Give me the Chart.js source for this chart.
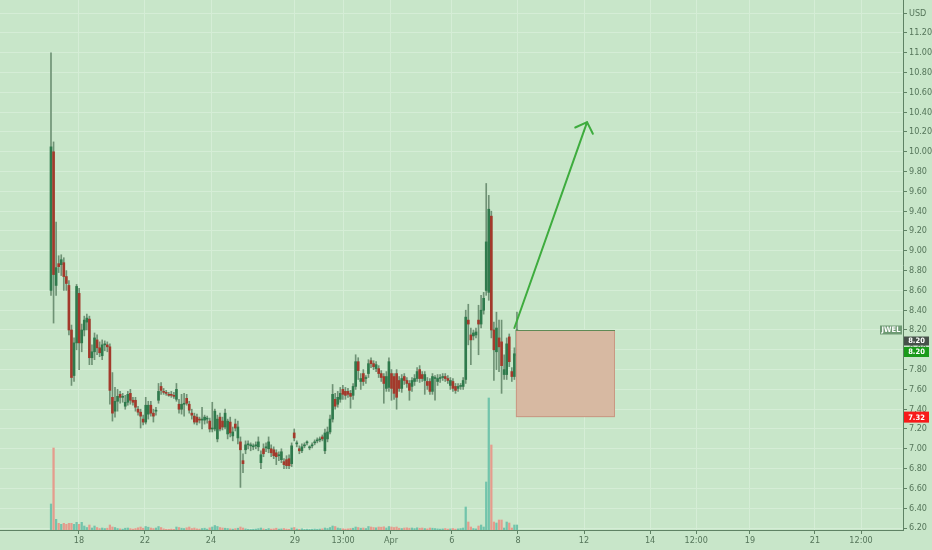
<!DOCTYPE html>
<html>
<head>
<meta charset="utf-8">
<script src="https://cdn.jsdelivr.net/npm/chart.js@4.4.0/dist/chart.umd.min.js"></script>
<style>
  html, body { margin: 0; padding: 0; background: #c8e6c9; }
  #wrap { width: 932px; height: 550px; }
</style>
</head>
<body>
<div id="wrap"><canvas id="chart" width="932" height="550"></canvas></div>
<script>
// 30 minute candles, JWEL, 17 Mar -> 8 Apr
const opens = [
  8.60, 10.00, 8.65, 8.87, 8.86, 8.88, 8.74, 8.65, 8.20, 7.74,
  8.07, 8.57, 8.07, 8.20, 8.28, 8.31, 7.92, 7.98, 8.10, 8.02,
  7.94, 8.05, 8.05, 8.03, 7.52, 7.38, 7.48, 7.55, 7.52, 7.43,
  7.47, 7.56, 7.49, 7.49, 7.40, 7.37, 7.30, 7.27, 7.35, 7.44,
  7.36, 7.38, 7.49, 7.63, 7.58, 7.57, 7.55, 7.55, 7.54, 7.50,
  7.45, 7.40, 7.45, 7.51, 7.45, 7.36, 7.33, 7.32, 7.30, 7.29,
  7.29, 7.30, 7.28, 7.20, 7.20, 7.10, 7.32, 7.28, 7.22, 7.15,
  7.27, 7.13, 7.25, 7.11, 7.07, 6.88, 6.99, 7.04, 7.03, 7.02,
  7.03, 7.02, 6.86, 7.00, 7.01, 7.00, 7.00, 6.99, 6.96, 6.93,
  6.89, 6.87, 6.89, 6.90, 6.85, 7.16, 7.05, 7.00, 6.98, 7.03,
  7.06, 7.01, 7.03, 7.06, 7.08, 7.09, 7.12, 6.98, 7.10, 7.17,
  7.30, 7.50, 7.45, 7.50, 7.60, 7.58, 7.58, 7.56, 7.54, 7.63,
  7.88, 7.68, 7.76, 7.71, 7.76, 7.89, 7.86, 7.81, 7.81, 7.76,
  7.73, 7.61, 7.62, 7.76, 7.73, 7.76, 7.69, 7.61, 7.73, 7.69,
  7.66, 7.63, 7.68, 7.71, 7.80, 7.75, 7.69, 7.68, 7.68, 7.58,
  7.71, 7.68, 7.71, 7.72, 7.73, 7.71, 7.64, 7.68, 7.63, 7.61,
  7.63, 7.63, 7.70, 8.30, 8.15, 8.14, 8.15, 8.30, 8.26, 8.40,
  8.60, 8.58, 9.35, 8.20, 7.98, 8.12, 8.08, 7.75, 7.75, 8.13,
  7.78, 7.73, 7.94
];
const highs = [
  11.00, 10.10, 9.29, 8.95, 8.96, 8.93, 8.80, 8.70, 8.25, 8.12,
  8.66, 8.62, 8.26, 8.34, 8.36, 8.34, 8.05, 8.17, 8.15, 8.08,
  8.10, 8.09, 8.08, 8.06, 7.77, 7.62, 7.60, 7.58, 7.56, 7.54,
  7.58, 7.60, 7.52, 7.52, 7.43, 7.40, 7.34, 7.52, 7.48, 7.48,
  7.40, 7.42, 7.66, 7.67, 7.61, 7.59, 7.57, 7.58, 7.57, 7.66,
  7.50, 7.55, 7.56, 7.55, 7.48, 7.40, 7.36, 7.35, 7.32, 7.42,
  7.34, 7.33, 7.31, 7.47, 7.40, 7.34, 7.36, 7.32, 7.40, 7.30,
  7.32, 7.22, 7.30, 7.28, 7.12, 6.95, 7.08, 7.08, 7.06, 7.05,
  7.07, 7.12, 6.98, 7.05, 7.06, 7.12, 7.04, 7.02, 6.99, 6.97,
  7.00, 6.90, 6.93, 6.94, 7.06, 7.20, 7.08, 7.03, 7.05, 7.06,
  7.08, 7.03, 7.06, 7.09, 7.11, 7.12, 7.14, 7.20, 7.22, 7.34,
  7.65, 7.56, 7.58, 7.62, 7.64, 7.62, 7.61, 7.59, 7.66, 7.95,
  7.92, 7.76, 7.80, 7.74, 7.90, 7.92, 7.89, 7.88, 7.84, 7.79,
  7.76, 7.78, 7.92, 7.80, 7.76, 7.80, 7.73, 7.75, 7.76, 7.72,
  7.69, 7.72, 7.75, 7.82, 7.84, 7.78, 7.78, 7.72, 7.71, 7.76,
  7.74, 7.75, 7.75, 7.76, 7.76, 7.74, 7.72, 7.71, 7.66, 7.66,
  7.66, 7.72, 8.40, 8.46, 8.22, 8.20, 8.22, 8.45, 8.55, 8.58,
  9.68, 9.56, 9.40, 8.28, 8.38, 8.30, 8.30, 7.95, 8.12, 8.16,
  7.82, 8.02, 8.38
];
const lows = [
  8.55, 8.27, 8.55, 8.78, 8.75, 8.60, 8.60, 8.15, 7.64, 7.68,
  8.00, 7.80, 7.98, 8.14, 8.20, 7.85, 7.85, 7.90, 7.95, 7.93,
  7.90, 7.99, 7.98, 7.45, 7.28, 7.32, 7.38, 7.46, 7.47, 7.40,
  7.44, 7.45, 7.44, 7.38, 7.34, 7.21, 7.24, 7.25, 7.30, 7.33,
  7.27, 7.34, 7.46, 7.55, 7.55, 7.54, 7.53, 7.52, 7.51, 7.48,
  7.36, 7.35, 7.33, 7.44, 7.36, 7.30, 7.25, 7.24, 7.26, 7.20,
  7.25, 7.26, 7.17, 7.17, 7.18, 7.07, 7.18, 7.19, 7.20, 7.10,
  7.12, 7.08, 7.18, 7.05, 6.61, 6.76, 6.95, 7.00, 6.98, 6.99,
  7.00, 6.98, 6.80, 6.92, 6.97, 6.96, 6.92, 6.90, 6.84, 6.88,
  6.86, 6.80, 6.80, 6.80, 6.82, 7.08, 7.02, 6.95, 6.96, 7.01,
  7.04, 6.99, 7.01, 7.04, 7.06, 7.07, 7.08, 6.95, 7.07, 7.15,
  7.27, 7.40, 7.42, 7.47, 7.50, 7.50, 7.52, 7.41, 7.50, 7.60,
  7.70, 7.60, 7.64, 7.66, 7.72, 7.82, 7.80, 7.78, 7.72, 7.68,
  7.46, 7.58, 7.58, 7.49, 7.50, 7.40, 7.58, 7.57, 7.65, 7.62,
  7.49, 7.58, 7.64, 7.68, 7.67, 7.68, 7.55, 7.60, 7.55, 7.55,
  7.49, 7.64, 7.67, 7.69, 7.68, 7.66, 7.60, 7.58, 7.56, 7.58,
  7.60, 7.60, 7.66, 8.05, 7.85, 8.10, 8.12, 7.95, 8.22, 8.36,
  8.55, 8.50, 8.12, 7.69, 7.80, 7.78, 7.56, 7.70, 7.70, 7.83,
  7.68, 7.70, 7.90
];
const closes = [
  10.05, 8.76, 8.83, 8.84, 8.91, 8.74, 8.67, 8.20, 7.72, 8.07,
  8.64, 8.07, 8.20, 8.30, 8.32, 7.92, 7.98, 8.12, 8.02, 7.97,
  8.05, 8.06, 8.03, 7.59, 7.36, 7.48, 7.53, 7.52, 7.53, 7.47,
  7.55, 7.49, 7.47, 7.42, 7.37, 7.33, 7.27, 7.44, 7.44, 7.36,
  7.33, 7.39, 7.58, 7.59, 7.57, 7.56, 7.54, 7.54, 7.53, 7.60,
  7.40, 7.45, 7.45, 7.46, 7.39, 7.34, 7.27, 7.27, 7.29, 7.29,
  7.32, 7.31, 7.20, 7.21, 7.38, 7.30, 7.20, 7.22, 7.36, 7.28,
  7.16, 7.17, 7.21, 7.22, 6.99, 6.85, 7.04, 7.05, 7.03, 7.03,
  7.04, 7.07, 6.94, 6.95, 7.02, 7.07, 6.96, 6.93, 6.92, 6.93,
  6.97, 6.84, 6.83, 6.83, 7.03, 7.11, 7.05, 6.98, 7.02, 7.04,
  7.06, 7.01, 7.04, 7.07, 7.09, 7.10, 7.10, 7.16, 7.17, 7.30,
  7.55, 7.43, 7.52, 7.56, 7.55, 7.54, 7.55, 7.53, 7.63, 7.88,
  7.79, 7.71, 7.68, 7.71, 7.86, 7.86, 7.83, 7.85, 7.76, 7.72,
  7.66, 7.73, 7.88, 7.61, 7.56, 7.52, 7.61, 7.71, 7.69, 7.66,
  7.59, 7.69, 7.71, 7.78, 7.71, 7.71, 7.75, 7.64, 7.58, 7.73,
  7.71, 7.71, 7.72, 7.72, 7.71, 7.69, 7.69, 7.61, 7.59, 7.63,
  7.63, 7.69, 8.33, 8.26, 8.10, 8.17, 8.18, 8.26, 8.40, 8.52,
  9.09, 9.42, 8.20, 8.00, 8.22, 8.03, 7.84, 7.80, 8.06, 7.88,
  7.73, 7.96, 8.20
];
const volumes = [
  260, 820, 107, 67, 57, 67, 57, 67, 67, 57,
  77, 57, 77, 40, 25, 50, 20, 40, 25, 15,
  20, 15, 18, 50, 30, 25, 15, 12, 10, 18,
  20, 14, 10, 15, 22, 30, 18, 35, 28, 20,
  15, 20, 35, 25, 12, 8, 8, 10, 8, 30,
  25, 18, 15, 22, 30, 15, 20, 12, 10, 15,
  18, 10, 22, 30, 45, 35, 25, 20, 18, 15,
  12, 10, 14, 18, 30, 20, 12, 8, 6, 8,
  10, 14, 20, 12, 8, 15, 10, 12, 18, 10,
  12, 15, 10, 8, 20, 25, 10, 8, 12, 6,
  8, 6, 8, 10, 8, 10, 12, 20, 15, 25,
  40, 35, 20, 15, 12, 10, 12, 15, 18, 30,
  25, 18, 20, 15, 35, 30, 25, 22, 30, 28,
  32, 20, 35, 30, 25, 30, 18, 15, 20, 22,
  18, 20, 15, 22, 18, 20, 15, 12, 20, 18,
  15, 12, 10, 12, 15, 10, 12, 15, 10, 12,
  15, 20, 230, 80, 30, 15, 12, 40, 50, 30,
  480, 1320, 850, 80, 70, 100, 100, 20, 80, 70,
  20, 50, 50
];

// time axis, in candle-index units
const tickLabels = ['18', '22', '24', '29', '13:00', 'Apr', '6', '8', '12', '14', '12:00', '19', '21', '12:00'];
const tickIndex = [10.9, 36.7, 62.5, 95.3, 114.1, 132.8, 156.6, 182.4, 208.2, 234.0, 252.0, 273.0, 298.4, 316.4];
const priceTicks = [6.2, 6.4, 6.6, 6.8, 7.0, 7.2, 7.4, 7.6, 7.8, 8.0, 8.2, 8.4, 8.6, 8.8, 9.0,
  9.2, 9.4, 9.6, 9.8, 10.0, 10.2, 10.4, 10.6, 10.8, 11.0, 11.2, 11.4];

// drawings on the chart
const boxStart = 181.6, boxEnd = 220.3, boxTop = 8.20, boxBottom = 7.32;
const arrowFrom = [181, 8.22];
const arrowTo = [209.4, 10.30];
const lastPrice = 8.20, stopPrice = 7.32;

const bgColor = '#c8e6c9';
const gridColor = '#d5edd6';
const axisColor = '#5f8264';
const labelColor = '#55755a';
const upColor = '#2f7a4c';
const downColor = '#a3392b';
const wickColor = '#6f9275';
const volUp = '#72c4ab';
const volDown = '#e59c8d';
const tickFont = { family: "'Liberation Sans Narrow', 'DejaVu Sans Condensed', Roboto, sans-serif", size: 9 };

const idx = opens.map((_, i) => i);
const isUp = idx.map(i => closes[i] >= opens[i]);

const backdrop = {
  id: 'backdrop',
  beforeDraw(chart) {
    const c = chart.ctx;
    c.save();
    c.fillStyle = bgColor;
    c.fillRect(0, 0, chart.width, chart.height);
    c.restore();
  }
};

function tag(c, x, y, w, h, text, bg) {
  c.fillStyle = bg;
  c.fillRect(x, y - h / 2, w, h);
  c.fillStyle = '#ffffff';
  c.fillText(text, x + w / 2, y + 0.5);
}

const drawings = {
  id: 'drawings',
  afterDatasetsDraw(chart) {
    const c = chart.ctx, xs = chart.scales.x, ys = chart.scales.y;
    const l = xs.getPixelForValue(boxStart), r = xs.getPixelForValue(boxEnd);
    const t = ys.getPixelForValue(boxTop), b = ys.getPixelForValue(boxBottom);
    c.save();
    c.fillStyle = '#d7b9a2';
    c.fillRect(l, t, r - l, b - t);
    c.strokeStyle = 'rgba(190,130,110,0.6)';
    c.lineWidth = 1;
    c.strokeRect(l + 0.5, t + 0.5, r - l - 1, b - t - 1);
    c.strokeStyle = '#5f8a55';
    c.beginPath();
    c.moveTo(l, Math.round(t) + 0.5);
    c.lineTo(r, Math.round(t) + 0.5);
    c.stroke();

    const x0 = xs.getPixelForValue(arrowFrom[0]), y0 = ys.getPixelForValue(arrowFrom[1]);
    const x1 = xs.getPixelForValue(arrowTo[0]), y1 = ys.getPixelForValue(arrowTo[1]);
    const a = Math.atan2(y1 - y0, x1 - x0);
    c.strokeStyle = '#3eac3e';
    c.lineWidth = 2;
    c.lineCap = 'round';
    c.beginPath();
    c.moveTo(x0, y0);
    c.lineTo(x1, y1);
    for (const s of [-1, 1]) {
      c.moveTo(x1, y1);
      c.lineTo(x1 - 13 * Math.cos(a + s * 0.8), y1 - 13 * Math.sin(a + s * 0.8));
    }
    c.stroke();
    c.restore();
  },
  afterDraw(chart) {
    const c = chart.ctx, ys = chart.scales.y;
    const right = chart.chartArea.right;
    const yLast = ys.getPixelForValue(lastPrice);
    const yStop = ys.getPixelForValue(stopPrice);
    c.save();
    c.font = "bold 7.5px 'Liberation Sans Narrow', 'DejaVu Sans Condensed', Roboto, sans-serif";
    c.textAlign = 'center';
    c.textBaseline = 'middle';
    tag(c, right - 23, yLast, 22, 9, 'JWEL', '#6e9a74');
    tag(c, right + 1, yLast + 11, 25, 9, lastPrice.toFixed(2), '#46504a');
    tag(c, right + 1, yLast + 22, 25, 10, lastPrice.toFixed(2), '#1a9a1a');
    tag(c, right + 1, yStop, 25, 11, stopPrice.toFixed(2), '#f71a1a');
    c.restore();
  }
};

const ctx = document.getElementById('chart').getContext('2d');

const chart = new Chart(ctx, {
  type: 'bar',
  data: {
    datasets: [
      {
        label: 'body',
        data: idx.map(i => ({ x: i, y: [opens[i], closes[i]] })),
        backgroundColor: idx.map(i => isUp[i] ? upColor : downColor),
        barThickness: 2,
        minBarLength: 1,
        grouped: false,
        order: 1,
        yAxisID: 'y'
      },
      {
        label: 'wick',
        data: idx.map(i => ({ x: i, y: [lows[i], highs[i]] })),
        backgroundColor: wickColor,
        barThickness: 1,
        grouped: false,
        order: 2,
        yAxisID: 'y'
      },
      {
        label: 'volume',
        data: idx.map(i => ({ x: i, y: volumes[i] })),
        backgroundColor: idx.map(i => isUp[i] ? volUp : volDown),
        barThickness: 1.6,
        grouped: false,
        order: 3,
        yAxisID: 'yVol'
      }
    ]
  },
  options: {
    responsive: false,
    animation: false,
    layout: { padding: 0 },
    plugins: { legend: { display: false }, tooltip: { enabled: false } },
    scales: {
      x: {
        type: 'linear',
        min: -19.92,
        max: 332.8,
        offset: false,
        afterBuildTicks: s => { s.ticks = tickIndex.map(v => ({ value: v })); },
        afterFit: s => { s.height = 20; s.paddingLeft = 0; s.paddingRight = 0; },
        grid: { color: gridColor, tickColor: axisColor, tickLength: 4, offset: false },
        border: { color: axisColor },
        ticks: {
          autoSkip: false,
          maxRotation: 0,
          padding: 1,
          color: labelColor,
          font: tickFont,
          callback: (v, i) => tickLabels[i]
        }
      },
      y: {
        position: 'right',
        min: 6.1798,
        max: 11.5333,
        afterBuildTicks: s => { s.ticks = priceTicks.map(v => ({ value: v })); },
        afterFit: s => { s.width = 29; s.paddingTop = 0; s.paddingBottom = 0; },
        grid: { color: gridColor, tickColor: axisColor, tickLength: 4 },
        border: { color: axisColor },
        ticks: {
          autoSkip: false,
          padding: 2,
          color: labelColor,
          font: tickFont,
          callback: v => v > 11.3 ? 'USD' : v.toFixed(2)
        }
      },
      yVol: {
        display: false,
        min: 0,
        max: 5300
      }
    }
  },
  plugins: [backdrop, drawings]
});
</script>
</body>
</html>
